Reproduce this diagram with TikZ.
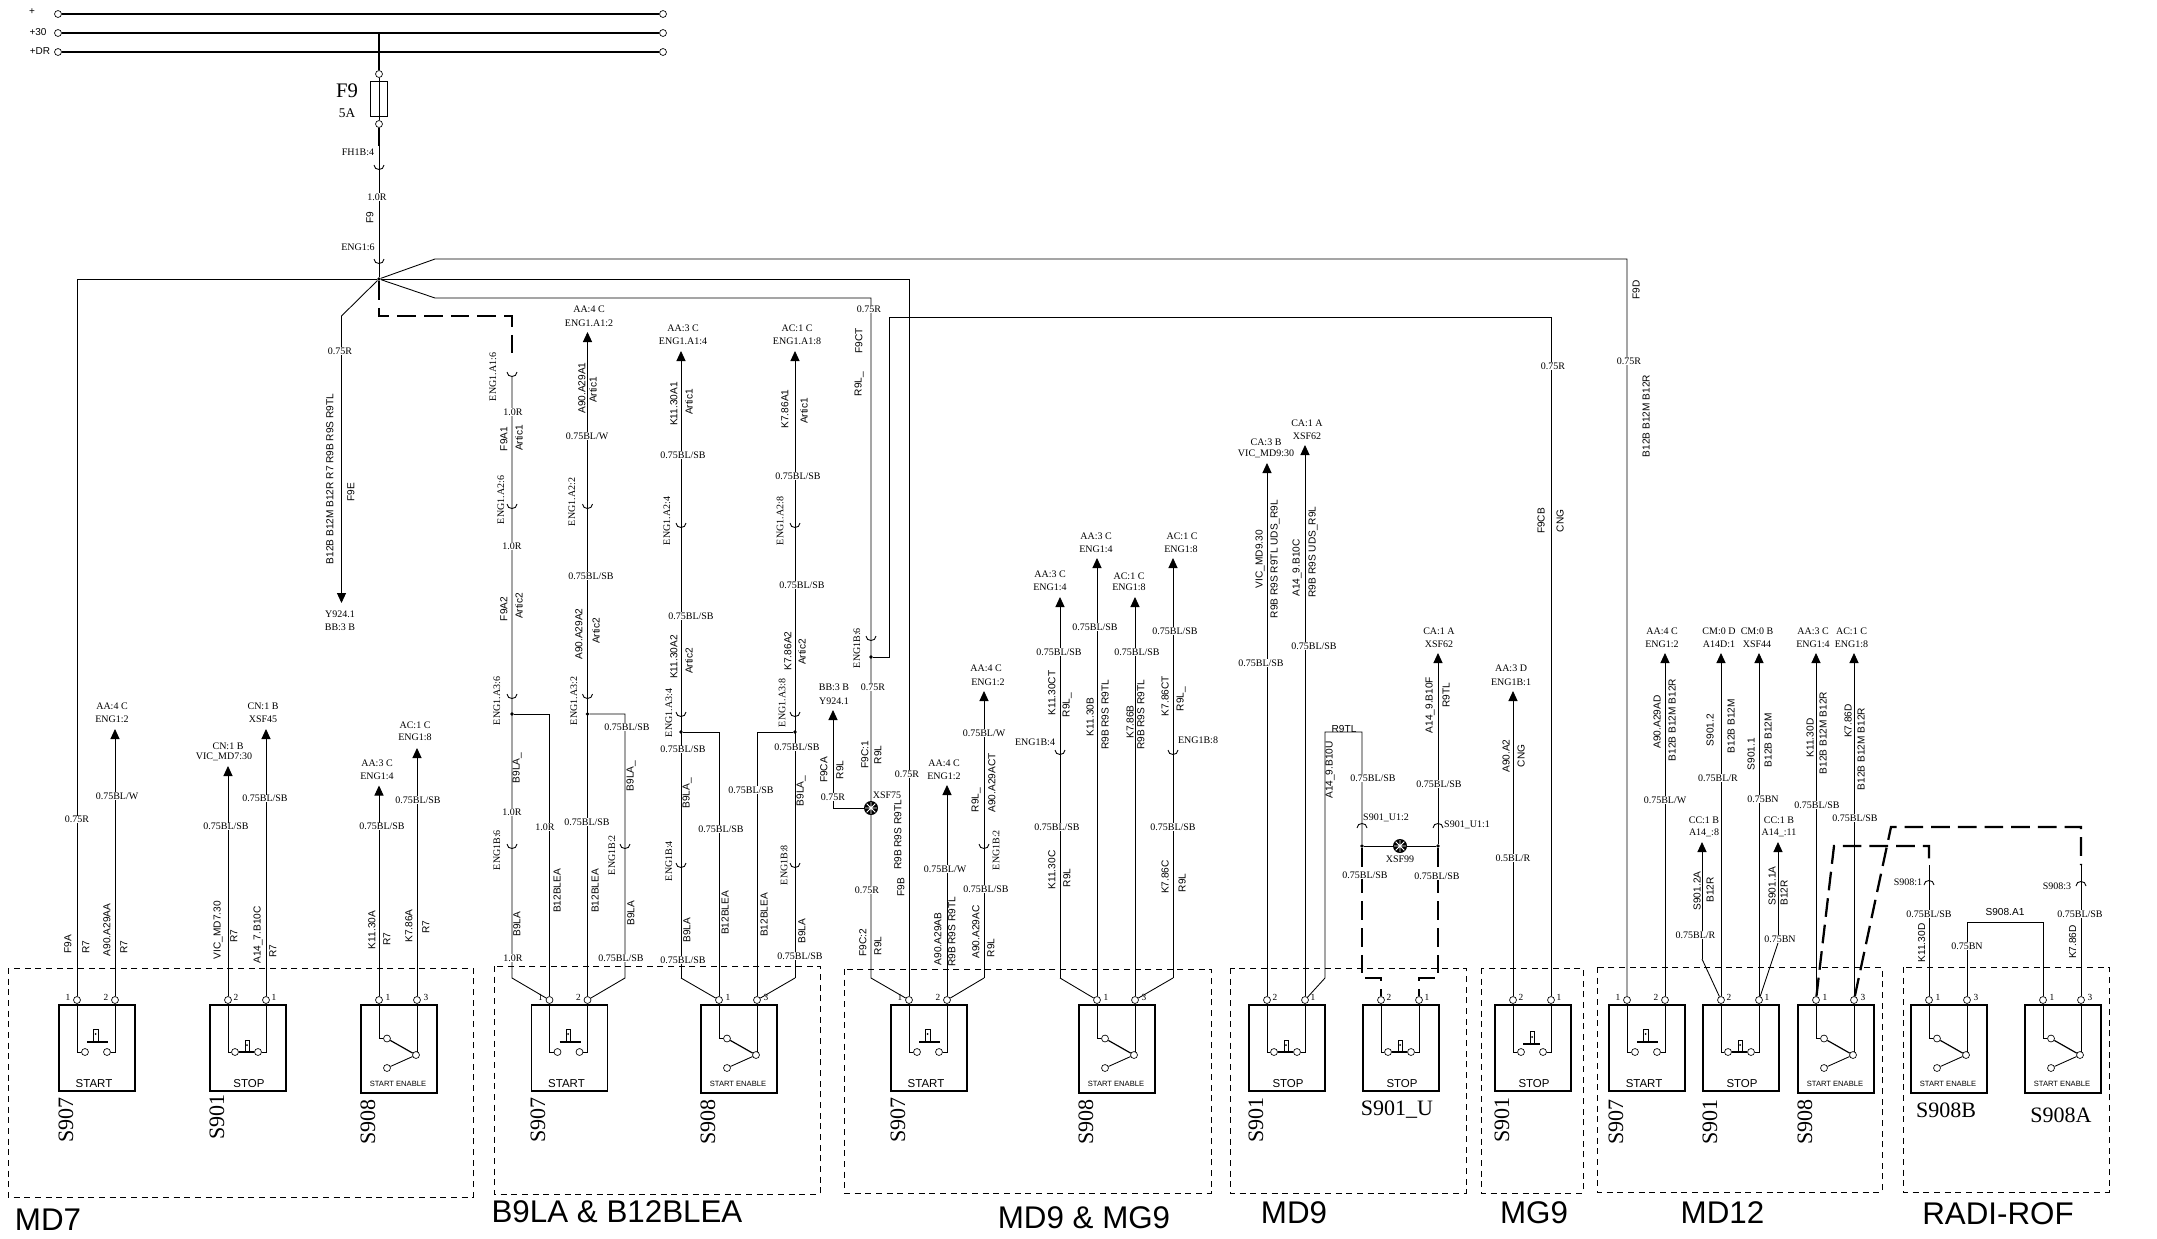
\documentclass[tikz,border=0pt]{standalone}
\usepackage{fontspec}
\setmainfont{Liberation Serif}
\setsansfont{Liberation Sans}
\usetikzlibrary{arrows.meta}
\newcounter{labn}
\tikzset{
  wire/.style={line width=0.65pt},
  feedwire/.style={wire,-{Triangle[length=7.5pt,width=6.8pt]}},
  buswire/.style={line width=1.7pt},
  dashwire/.style={line width=1.7pt,dash pattern=on 14pt off 6pt},
  groupbox/.style={line width=0.6pt,dash pattern=on 4.5pt off 3.5pt},
  swbox/.style={draw,line width=1.2pt,minimum width=57pt,anchor=north west,inner sep=0pt},
  pinnode/.style={circle,draw,fill=white,line width=0.5pt,minimum size=5.2pt,inner sep=0pt},
  junct/.style={circle,fill,minimum size=2.8pt,inner sep=0pt},
  splice/.style={circle,fill,minimum size=10.5pt,inner sep=0pt},
  wirelab/.style={fill=white,inner sep=0.4pt,font=\fontsize{7.5}{9}\selectfont},
  txtlab/.style={inner sep=0pt,font=\fontsize{7.5}{9}\selectfont},
  sanslab/.style={inner sep=0pt,rotate=90,font=\sffamily\fontsize{7.6}{9}\selectfont},
  conlab/.style={inner sep=0pt,rotate=90,font=\fontsize{7.5}{9}\selectfont},
  pinlab/.style={inner sep=0pt,font=\fontsize{7}{8}\selectfont},
  swlab/.style={inner sep=0pt,font=\sffamily\fontsize{8.6}{10}\selectfont},
  enlab/.style={inner sep=0pt,font=\sffamily\fontsize{5.7}{7}\selectfont},
  namelab/.style={inner sep=0pt,font=\fontsize{16.5}{19}\selectfont},
  rotname/.style={inner sep=0pt,rotate=90,font=\fontsize{16.5}{19}\selectfont},
  titlelab/.style={inner sep=0pt,font=\sffamily\fontsize{23.5}{27}\selectfont}
}
% text helpers
\newcommand{\wlab}[3]{\stepcounter{labn}\node[wirelab] (lab\thelabn) at (#1,#2) {#3};}
\newcommand{\tlab}[3]{\stepcounter{labn}\node[txtlab] (lab\thelabn) at (#1,#2) {#3};}
\newcommand{\rlab}[3]{\stepcounter{labn}\node[sanslab] (lab\thelabn) at (#1,#2) {#3};}
\newcommand{\clab}[3]{\stepcounter{labn}\node[conlab] (lab\thelabn) at (#1,#2) {#3};}
\newcommand{\swname}[3]{\stepcounter{labn}\node[rotname] (lab\thelabn) at (#1,#2) {#3};}
% connector halves
\newcommand{\cupsym}[2]{\draw[wire] (#1-5,#2-3) .. controls (#1-5,#2+3) and (#1+5,#2+3) .. (#1+5,#2-3);}
\newcommand{\capsym}[2]{\draw[wire] (#1-5,#2+3) .. controls (#1-5,#2-3) and (#1+5,#2-3) .. (#1+5,#2+3);}
% switch frame and its two pins
\newcommand{\swframe}[3]{%
  \node[swbox,minimum height=#3*0.75pt] (#1) at (0,1004) {};
  \node[pinnode] (#1a) at (19,1000) {};
  \node[pinnode] (#1b) at (57,1000) {};
}
\newcommand{\pinnums}[4]{%
  \node[pinlab] (#1n) at (#2,997) {#3};
  \node[pinlab] (#1m) at (#2+38,997) {#4};
}
\newcommand{\startsw}[2]{%
  \begin{scope}[shift={(#2,0)}]
  \swframe{#1}{#2}{86}
  \node[pinnode] (#1c) at (27,1052) {};
  \node[pinnode] (#1d) at (49,1052) {};
  \draw[wire] (#1a) |- (#1c);
  \draw[wire] (#1b) |- (#1d);
  \draw[line width=0.9pt] (29,1042) -- (50,1042);
  \draw[wire] (35.5,1029) rectangle (40,1042);
  \fill (37.7,1034) circle (1);
  \pinnums{#1}{10}{1}{2}
  \node[swlab] (#1t) at (36,1084) {START};
  \end{scope}
}
\newcommand{\stopsw}[2]{%
  \begin{scope}[shift={(#2,0)}]
  \swframe{#1}{#2}{86}
  \node[pinnode] (#1c) at (26,1052) {};
  \node[pinnode] (#1d) at (49,1052) {};
  \draw[wire] (#1a) |- (#1c);
  \draw[wire] (#1b) |- (#1d);
  \draw[line width=0.9pt] (#1c) -- (#1d);
  \draw[wire] (36,1040) rectangle (40,1052);
  \fill (38,1045) circle (1);
  \pinnums{#1}{27}{2}{1}
  \node[swlab] (#1t) at (40,1084) {STOP};
  \end{scope}
}
\newcommand{\stopopen}[2]{%
  \begin{scope}[shift={(#2,0)}]
  \swframe{#1}{#2}{86}
  \node[pinnode] (#1c) at (27,1052) {};
  \node[pinnode] (#1d) at (49,1052) {};
  \draw[wire] (#1a) |- (#1c);
  \draw[wire] (#1b) |- (#1d);
  \draw[line width=0.9pt] (29,1044) -- (46,1044);
  \draw[wire] (36,1031) rectangle (40,1044);
  \fill (38,1037) circle (1);
  \pinnums{#1}{27}{2}{1}
  \node[swlab] (#1t) at (40,1084) {STOP};
  \end{scope}
}
\newcommand{\enablesw}[2]{%
  \begin{scope}[shift={(#2,0)}]
  \swframe{#1}{#2}{88}
  \node[pinnode] (#1c) at (27,1038.5) {};
  \node[pinnode] (#1d) at (56,1055) {};
  \node[pinnode] (#1e) at (27,1068) {};
  \draw[wire] (#1a) |- (#1c);
  \draw[wire] (#1b) -- (57,1052);
  \draw[line width=0.9pt] (#1c) -- (#1d);
  \draw[wire] (#1d) -- (#1e);
  \pinnums{#1}{28}{1}{3}
  \node[enlab] (#1t) at (38,1084) {START ENABLE};
  \end{scope}
}
\newcommand{\feed}[2]{\coordinate (#1t) at (#1 |- 0,#2); \draw[feedwire] (#1) -- (#1t);}
\newcommand{\starmark}[1]{\draw[white,line width=0.6pt] ([xshift=-4.5pt]#1.center) -- ([xshift=4.5pt]#1.center) ([yshift=-4.5pt]#1.center) -- ([yshift=4.5pt]#1.center) ([shift={(-3.2pt,-3.2pt)}]#1.center) -- ([shift={(3.2pt,3.2pt)}]#1.center) ([shift={(-3.2pt,3.2pt)}]#1.center) -- ([shift={(3.2pt,-3.2pt)}]#1.center);}
\begin{document}
\begin{tikzpicture}[x=0.75pt,y=0.75pt,yscale=-1,xscale=1]
\useasboundingbox (0,0) rectangle (2157,1239);

% Group boxes
\draw[groupbox] (8,968) rectangle (473,1197);
\draw[groupbox] (494,966) rectangle (820,1194);
\draw[groupbox] (844,969) rectangle (1211,1193);
\draw[groupbox] (1230,968) rectangle (1466,1193);
\draw[groupbox] (1481,968) rectangle (1583,1193);
\draw[groupbox] (1597,967) rectangle (1882,1192);
\draw[groupbox] (1903,967) rectangle (2109,1192);

% Switches
\startsw{asa}{58}
\stopsw{asb}{209}
\enablesw{asc}{360}
\startsw{bsa}{530.5}
\enablesw{bsc}{700}
\startsw{msa}{890}
\enablesw{msc}{1078}
\stopsw{dsb}{1248}
\stopsw{dub}{1362}
\stopopen{gsb}{1494}
\startsw{csa}{1608}
\stopsw{csb}{1702}
\enablesw{csc}{1797}
\enablesw{rsb}{1910}
\enablesw{rsa}{2024}

% Busbars
\node[pinnode] (busal) at (58,14) {};
\node[pinnode] (busar) at (663,14) {};
\node[pinnode] (busbl) at (58,33) {};
\node[pinnode] (busbr) at (663,33) {};
\node[pinnode] (buscl) at (58,52) {};
\node[pinnode] (buscr) at (663,52) {};
\draw[buswire] (busal) -- (busar);
\draw[buswire] (busbl) -- (busbr);
\draw[buswire] (buscl) -- (buscr);
\coordinate (tapf9) at (379,33);
\node[pinnode] (fuseup) at (379,74) {};
\node[draw,line width=0.5pt,minimum width=13pt,minimum height=26.5pt,inner sep=0pt] (fuse) at (379,99) {};
\node[pinnode] (fusedn) at (379,124) {};
\coordinate (fusethin) at (379,146);
\node[junct] (jf) at (379,279) {};
\draw[buswire] (tapf9) -- (fuseup);
\draw[line width=0.3pt] (fuseup) -- (fusedn);
\draw[buswire] (fusedn) -- (fusethin);
\draw[wire] (fusethin) -- (jf);
\cupsym{379}{168}
\cupsym{379}{262}

% Branches from F9
\coordinate (upa) at (435,259);
\coordinate (upb) at (1627,259);
\coordinate (loa) at (435,298);
\coordinate (lob) at (871,298);
\coordinate (loc) at (871,978);
\coordinate (ya) at (341.5,316);
\coordinate (yb) at (341.5,603);
\coordinate (da) at (379,316);
\coordinate (db) at (512,316);
\coordinate (dc) at (512,354);
\draw[wire] (jf) -| (asaa);
\draw[wire] (jf) -- (upa) -- (upb) -- (csaa);
\draw[wire] (jf) -| (msaa);
\draw[wire] (jf) -- (loa) -- (lob) -- (loc) -- (msaa);
\draw[feedwire] (jf) -- (ya) -- (yb);
\draw[dashwire] (jf) -- (da) -- (db) -- (dc);

% MD7 feeds
\feed{asab}{729}
\feed{asba}{766}
\feed{asbb}{729}
\feed{asca}{785.5}
\feed{ascb}{748}

% B9LA and B12BLEA wires
\coordinate (wa) at (512,377);
\coordinate (wb) at (512,978);
\node[junct] (ja) at (512,714) {};
\draw[wire] (wa) -- (wb) -- (bsaa);
\draw[wire] (ja) -| (bsaa);
\feed{bsab}{332}
\node[junct] (jb) at (587.5,714) {};
\coordinate (wc) at (625,714);
\coordinate (wd) at (625,978);
\draw[wire] (jb) -- (wc) -- (wd) -- (bsab);
\coordinate (we) at (681,978);
\coordinate (wf) at (681,351);
\node[junct] (jc) at (681,732) {};
\draw[feedwire] (we) -- (wf);
\draw[wire] (we) -- (bsca);
\draw[wire] (jc) -| (bsca);
\coordinate (wg) at (795,978);
\coordinate (wh) at (795,351);
\node[junct] (jd) at (795,732) {};
\draw[feedwire] (wg) -- (wh);
\draw[wire] (wg) -- (bscb);
\draw[wire] (jd) -| (bscb);
\cupsym{512}{375}
\cupsym{512}{507}
\cupsym{512}{697}
\cupsym{512}{847}
\cupsym{587.5}{507}
\cupsym{587.5}{697}
\cupsym{625}{847}
\cupsym{681}{526}
\cupsym{681}{715}
\cupsym{681}{866}
\cupsym{795}{526}
\cupsym{795}{715}
\cupsym{795}{866}

% MD9 and MG9 start side
\node[junct] (je) at (871,657) {};
\coordinate (ma) at (889,657);
\coordinate (mb) at (889,317);
\coordinate (mc) at (1551,317);
\draw[wire] (je) -- (ma) -- (mb) -- (mc) -- (gsbb);
\node[splice] (xsfa) at (871,808) {};
\starmark{xsfa}
\coordinate (md) at (833,808);
\coordinate (me) at (833,710);
\draw[feedwire] (xsfa) -- (md) -- (me);
\cupsym{871}{639}
\feed{msab}{785}
\coordinate (mf) at (984,978);
\coordinate (mg) at (984,691);
\draw[feedwire] (mf) -- (mg);
\draw[wire] (mf) -- (msab);
\cupsym{984}{847}
\coordinate (mh) at (1060,978);
\coordinate (mi) at (1060,597);
\draw[feedwire] (mh) -- (mi);
\draw[wire] (mh) -- (msca);
\cupsym{1060}{753}
\feed{msca}{558}
\feed{mscb}{597}
\coordinate (mj) at (1173,978);
\coordinate (mk) at (1173,558);
\draw[feedwire] (mj) -- (mk);
\draw[wire] (mj) -- (mscb);
\cupsym{1173}{753}

% MD9 stop
\feed{dsba}{463}
\feed{dsbb}{445}
\coordinate (na) at (1325,978);
\coordinate (nb) at (1325,732);
\coordinate (nc) at (1362,732);
\node[junct] (jg) at (1362,846) {};
\node[junct] (jh) at (1438,846) {};
\node[splice] (xsfb) at (1400,846) {};
\starmark{xsfb}
\draw[wire] (dsbb) -- (na) -- (nb) -- (nc) -- (jg);
\draw[wire] (jg) -- (xsfb) -- (jh);
\coordinate (nd) at (1438,653);
\draw[feedwire] (jh) -- (nd);
\capsym{1362}{825}
\capsym{1438}{825}
\coordinate (ne) at (1362,978);
\coordinate (nf) at (1381,978);
\coordinate (ng) at (1438,978);
\coordinate (nh) at (1419,978);
\draw[dashwire] (jg) -- (ne) -- (nf) -- (duba);
\draw[dashwire] (jh) -- (ng) -- (nh) -- (dubb);

% MG9
\feed{gsba}{691}

% MD12
\feed{csab}{653}
\feed{csba}{653}
\feed{csbb}{653}
\feed{csca}{653}
\feed{cscb}{653}
\coordinate (pa) at (1702,959);
\coordinate (pb) at (1702,842);
\coordinate (pc) at (1778,943);
\coordinate (pd) at (1778,842);
\draw[feedwire] (pa) -- (pb);
\draw[wire] (pa) -- (csba);
\draw[feedwire] (pc) -- (pd);
\draw[wire] (pc) -- (csbb);

% RADI-ROF
\coordinate (qa) at (1834,846);
\coordinate (qb) at (1929,846);
\coordinate (qc) at (1929,865);
\coordinate (qd) at (1891,827);
\coordinate (qe) at (2081,827);
\coordinate (qf) at (2081,865);
\draw[dashwire] (csca) -- (qa) -- (qb) -- (qc);
\draw[dashwire] (cscb) -- (qd) -- (qe) -- (qf);
\draw[wire] (qc) -- (rsba);
\draw[wire] (qf) -- (rsab);
\capsym{1929}{882}
\capsym{2081}{883}
\coordinate (qg) at (1967,922);
\coordinate (qh) at (2043,922);
\draw[wire] (rsbb) -- (qg) -- (qh) -- (rsaa);

% Top text
\tlab{32}{12}{\sffamily +}
\tlab{38}{32}{\sffamily +30}
\tlab{40}{51}{\sffamily +DR}
\stepcounter{labn}\node[inner sep=0pt,font=\fontsize{15.5}{18}\selectfont] (lab\thelabn) at (347,91) {F9};
\stepcounter{labn}\node[inner sep=0pt,font=\fontsize{10}{12}\selectfont] (lab\thelabn) at (347,113) {5A};
\tlab{358}{152}{FH1B:4}
\wlab{377}{197}{1.0R}
\rlab{370}{218}{F9}
\tlab{358}{247}{ENG1:6}
\wlab{340}{351}{0.75R}
\rlab{330}{479}{B12B B12M B12R R7 R9B R9S R9TL}
\rlab{351}{492}{F9E}
\tlab{340}{614}{Y924.1}
\tlab{340}{627}{BB:3 B}

% MD7 text
\tlab{112}{706}{AA:4 C}
\tlab{112}{719}{ENG1:2}
\tlab{228}{746}{CN:1 B}
\tlab{224}{757}{VIC\_MD7:30}
\tlab{263}{706}{CN:1 B}
\tlab{263}{719}{XSF45}
\tlab{377}{763}{AA:3 C}
\tlab{377}{776}{ENG1:4}
\tlab{415}{725}{AC:1 C}
\tlab{415}{737.5}{ENG1:8}
\wlab{117}{796}{0.75BL/W}
\wlab{77}{819.5}{0.75R}
\wlab{226}{826.5}{0.75BL/SB}
\wlab{265}{798.5}{0.75BL/SB}
\wlab{382}{826.5}{0.75BL/SB}
\wlab{418}{800}{0.75BL/SB}
\rlab{68}{944}{F9A}
\rlab{86}{947}{R7}
\rlab{107}{930}{A90.A29AA}
\rlab{124}{947}{R7}
\rlab{218}{930}{VIC\_MD7.30}
\rlab{234}{936}{R7}
\rlab{258}{935}{A14\_7.B10C}
\rlab{273}{951}{R7}
\rlab{372}{930}{K11.30A}
\rlab{387}{939}{R7}
\rlab{409}{926}{K7.86A}
\rlab{426}{927}{R7}

% B9LA text
\clab{493}{377}{ENG1.A1:6}
\wlab{513}{412}{1.0R}
\rlab{504}{439}{F9A1}
\rlab{519}{438}{Artic1}
\clab{501}{500}{ENG1.A2:6}
\wlab{512}{546}{1.0R}
\rlab{504}{609}{F9A2}
\rlab{519}{606}{Artic2}
\clab{497}{701}{ENG1.A3:6}
\rlab{517}{768}{B9LA\_}
\wlab{512}{812}{1.0R}
\clab{497}{850}{ENG1B:6}
\rlab{517}{924}{B9LA}
\wlab{513}{958}{1.0R}
\wlab{545}{827}{1.0R}
\rlab{557}{891}{B12BLEA}
\tlab{589}{309}{AA:4 C}
\tlab{589}{323}{ENG1.A1:2}
\rlab{582}{388}{A90.A29A1}
\rlab{593}{390}{Artic1}
\wlab{587}{436}{0.75BL/W}
\clab{572}{502}{ENG1.A2:2}
\wlab{591}{576}{0.75BL/SB}
\rlab{579}{634}{A90.A29A2}
\rlab{596}{631}{Artic2}
\clab{574}{701}{ENG1.A3:2}
\wlab{627}{727}{0.75BL/SB}
\rlab{631}{776}{B9LA\_}
\wlab{587}{822}{0.75BL/SB}
\rlab{595}{891}{B12BLEA}
\clab{612}{855}{ENG1B:2}
\rlab{631}{913}{B9LA}
\wlab{621}{958}{0.75BL/SB}
\tlab{683}{328}{AA:3 C}
\tlab{683}{341}{ENG1.A1:4}
\rlab{674}{404}{K11.30A1}
\rlab{689}{402}{Artic1}
\wlab{683}{455}{0.75BL/SB}
\clab{667}{521}{ENG1.A2:4}
\wlab{691}{616}{0.75BL/SB}
\rlab{674}{657}{K11.30A2}
\rlab{689}{661}{Artic2}
\clab{669}{713}{ENG1.A3:4}
\wlab{683}{749.5}{0.75BL/SB}
\rlab{687}{793.5}{B9LA\_}
\wlab{721}{829}{0.75BL/SB}
\clab{669}{861}{ENG1B:4}
\rlab{725}{913}{B12BLEA}
\rlab{687}{930}{B9LA}
\wlab{683}{960}{0.75BL/SB}
\tlab{797}{328}{AC:1 C}
\tlab{797}{341}{ENG1.A1:8}
\rlab{785}{409}{K7.86A1}
\rlab{804}{411}{Artic1}
\wlab{798}{476}{0.75BL/SB}
\clab{780}{521}{ENG1.A2:8}
\wlab{802}{585}{0.75BL/SB}
\rlab{788}{651}{K7.86A2}
\rlab{802}{652}{Artic2}
\clab{782}{703}{ENG1.A3:8}
\wlab{797}{747}{0.75BL/SB}
\wlab{751}{790}{0.75BL/SB}
\rlab{801}{791}{B9LA\_}
\clab{784}{865}{ENG1B:8}
\rlab{764}{915}{B12BLEA}
\rlab{802}{931}{B9LA}
\wlab{800}{956}{0.75BL/SB}

% MD9 and MG9 text
\wlab{869}{309}{0.75R}
\rlab{859}{341}{F9CT}
\rlab{859}{384}{R9L\_}
\clab{857}{648}{ENG1B:6}
\wlab{873}{687}{0.75R}
\rlab{865}{755}{F9C:1}
\rlab{878}{755}{R9L}
\tlab{887}{795}{XSF75}
\wlab{867}{890}{0.75R}
\rlab{863}{943}{F9C:2}
\rlab{878}{946}{R9L}
\tlab{834}{687}{BB:3 B}
\tlab{834}{701}{Y924.1}
\rlab{824}{770}{F9CA}
\rlab{840}{770}{R9L}
\wlab{833}{797}{0.75R}
\wlab{907}{774}{0.75R}
\rlab{898}{835}{R9B R9S R9TL}
\rlab{901}{887}{F9B}
\tlab{944}{763}{AA:4 C}
\tlab{944}{776}{ENG1:2}
\wlab{945}{869}{0.75BL/W}
\rlab{938}{939}{A90.A29AB}
\rlab{952}{932}{R9B R9S R9TL}
\tlab{986}{668}{AA:4 C}
\tlab{988}{682}{ENG1:2}
\wlab{984}{733}{0.75BL/W}
\rlab{976}{800}{R9L\_}
\rlab{992}{783}{A90.A29ACT}
\clab{996}{850}{ENG1B:2}
\wlab{986}{889}{0.75BL/SB}
\rlab{976}{932}{A90.A29AC}
\rlab{991}{948}{R9L}
\tlab{1050}{574}{AA:3 C}
\tlab{1050}{587}{ENG1:4}
\wlab{1059}{652}{0.75BL/SB}
\rlab{1052}{693}{K11.30CT}
\rlab{1067}{705}{R9L\_}
\tlab{1035}{742}{ENG1B:4}
\wlab{1057}{827}{0.75BL/SB}
\rlab{1052}{870}{K11.30C}
\rlab{1067}{878}{R9L}
\tlab{1096}{536}{AA:3 C}
\tlab{1096}{549}{ENG1:4}
\wlab{1095}{627}{0.75BL/SB}
\rlab{1090}{717}{K11.30B}
\rlab{1105}{715}{R9B R9S R9TL}
\tlab{1129}{576}{AC:1 C}
\tlab{1129}{587}{ENG1:8}
\wlab{1137}{652}{0.75BL/SB}
\rlab{1130}{722}{K7.86B}
\rlab{1141}{715}{R9B R9S R9TL}
\tlab{1182}{536}{AC:1 C}
\tlab{1181}{549}{ENG1:8}
\wlab{1175}{631}{0.75BL/SB}
\rlab{1165}{696}{K7.86CT}
\rlab{1181}{699}{R9L\_}
\tlab{1198}{740}{ENG1B:8}
\wlab{1173}{827}{0.75BL/SB}
\rlab{1165}{877}{K7.86C}
\rlab{1182}{883}{R9L}

% MD9 stop text
\tlab{1266}{442}{CA:3 B}
\tlab{1266}{454}{VIC\_MD9:30}
\tlab{1307}{423}{CA:1 A}
\tlab{1307}{436}{XSF62}
\rlab{1260}{559}{VIC\_MD9.30}
\rlab{1275}{559}{R9B R9S R9TL UDS\_R9L}
\wlab{1261}{663}{0.75BL/SB}
\rlab{1297}{568}{A14\_9.B10C}
\rlab{1313}{552}{R9B R9S UDS\_R9L}
\wlab{1314}{646}{0.75BL/SB}
\stepcounter{labn}\node[sanslab,rotate=-90] (lab\thelabn) at (1344,729) {R9TL};
\rlab{1330}{770}{A14\_9.B10U}
\wlab{1373}{778}{0.75BL/SB}
\tlab{1386}{818}{S901\_U1:2}
\wlab{1365}{875}{0.75BL/SB}
\tlab{1400}{859}{XSF99}
\wlab{1437}{876}{0.75BL/SB}
\tlab{1439}{631}{CA:1 A}
\tlab{1439}{644}{XSF62}
\rlab{1430}{705}{A14\_9.B10F}
\rlab{1446}{695}{R9TL}
\wlab{1439}{784}{0.75BL/SB}
\tlab{1467}{825}{S901\_U1:1}

% MG9 text
\tlab{1511}{668}{AA:3 D}
\tlab{1511}{682}{ENG1B:1}
\rlab{1506}{756}{A90.A2}
\rlab{1521}{756}{CNG}
\wlab{1513}{858}{0.5BL/R}
\rlab{1541}{521}{F9CB}
\rlab{1560}{521}{CNG}
\wlab{1553}{366}{0.75R}

% MD12 text
\rlab{1636}{290}{F9D}
\wlab{1629}{361}{0.75R}
\rlab{1646}{416}{B12B B12M B12R}
\tlab{1662}{631}{AA:4 C}
\tlab{1662}{644}{ENG1:2}
\tlab{1719}{631}{CM:0 D}
\tlab{1719}{644}{A14D:1}
\tlab{1757}{631}{CM:0 B}
\tlab{1757}{644}{XSF44}
\tlab{1813}{631}{AA:3 C}
\tlab{1813}{644}{ENG1:4}
\tlab{1851.5}{631}{AC:1 C}
\tlab{1851.5}{644}{ENG1:8}
\rlab{1657}{722}{A90.A29AD}
\rlab{1672}{720}{B12B B12M B12R}
\wlab{1665}{800}{0.75BL/W}
\rlab{1710}{730}{S901.2}
\rlab{1731}{726}{B12B B12M}
\wlab{1718}{778}{0.75BL/R}
\rlab{1751}{754}{S901.1}
\rlab{1768}{740}{B12B B12M}
\wlab{1763}{799}{0.75BN}
\rlab{1810}{738}{K11.30D}
\rlab{1823}{733}{B12B B12M B12R}
\wlab{1817}{805}{0.75BL/SB}
\rlab{1848}{721}{K7.86D}
\rlab{1861}{749}{B12B B12M B12R}
\wlab{1855}{818}{0.75BL/SB}
\tlab{1704}{820}{CC:1 B}
\tlab{1704}{833}{A14\_:8}
\tlab{1779}{820}{CC:1 B}
\tlab{1779}{833}{A14\_:11}
\rlab{1697}{891}{S901.2A}
\rlab{1710}{890}{B12R}
\wlab{1695.5}{935}{0.75BL/R}
\rlab{1772}{886}{S901.1A}
\rlab{1784}{893}{B12R}
\wlab{1780}{939}{0.75BN}

% RADI-ROF text
\tlab{1908}{882}{S908:1}
\wlab{1929}{914}{0.75BL/SB}
\rlab{1921.5}{943}{K11.30D}
\tlab{2057}{886}{S908:3}
\wlab{2080}{914}{0.75BL/SB}
\rlab{2072.5}{942}{K7.86D}
\stepcounter{labn}\node[sanslab,rotate=-90] (lab\thelabn) at (2005,912) {S908.A1};
\wlab{1967}{946}{0.75BN}

% Switch names
\swname{66}{1120}{S907}
\swname{217}{1117}{S901}
\swname{368}{1122}{S908}
\swname{538}{1120}{S907}
\swname{708}{1122}{S908}
\swname{898}{1120}{S907}
\swname{1086}{1122}{S908}
\swname{1256}{1120}{S901}
\swname{1502}{1120}{S901}
\swname{1616}{1122}{S907}
\swname{1710}{1122}{S901}
\swname{1805}{1122}{S908}
\node[namelab] (namedu) at (1397,1110) {S901\_U};
\node[namelab] (namerb) at (1946,1110) {S908B};
\node[namelab] (namera) at (2061,1115) {S908A};

% Titles
\node[titlelab] (titlea) at (48,1220) {MD7};
\node[titlelab] (titleb) at (617,1212) {B9LA \& B12BLEA};
\node[titlelab] (titlec) at (1084,1218) {MD9 \& MG9};
\node[titlelab] (titled) at (1294,1213) {MD9};
\node[titlelab] (titlee) at (1534,1213) {MG9};
\node[titlelab] (titlef) at (1722.5,1213) {MD12};
\node[titlelab] (titleg) at (1998,1214) {RADI-ROF};

\end{tikzpicture}
\end{document}
